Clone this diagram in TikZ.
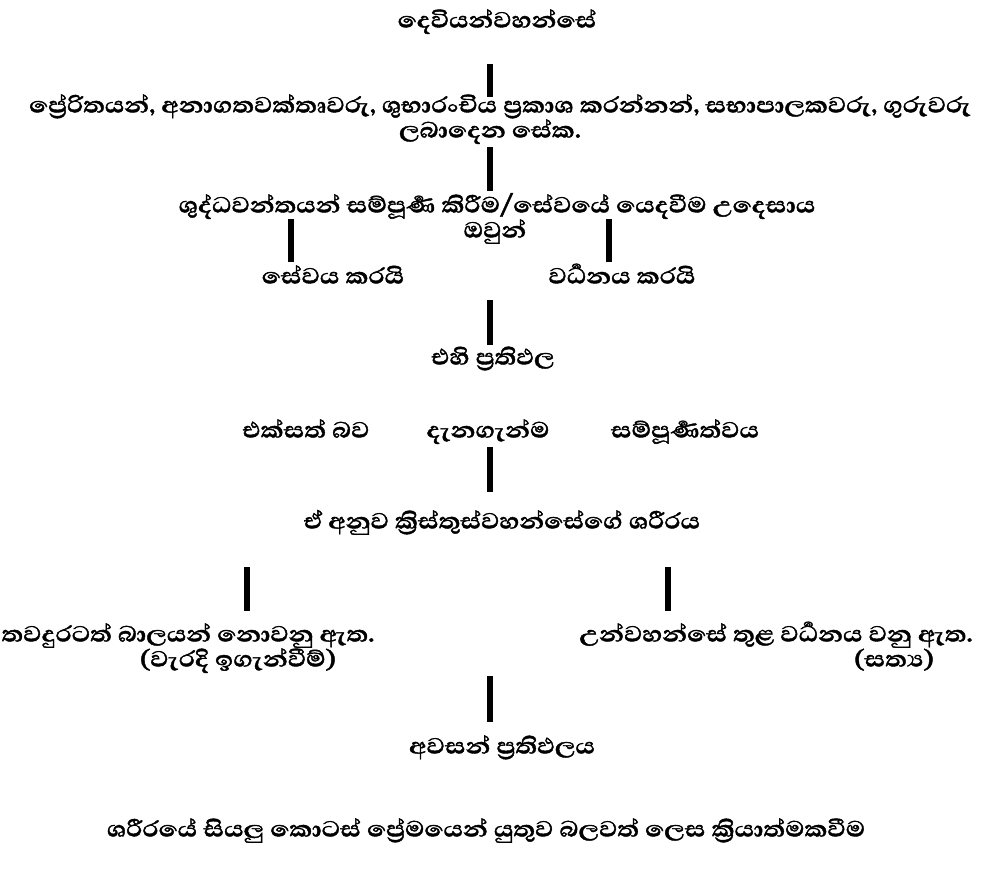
\documentclass[tikz,border=0pt]{standalone}
\usepackage{fontspec}
\newfontfamily\sinfont[Script=Sinhala,FakeStretch=1.15,BoldFeatures={FakeBold=1.5}]{Abhaya Libre}
\begin{document}
\begin{tikzpicture}[x=0.5pt,y=-0.5pt,
  txt/.style={font=\sinfont\bfseries\fontsize{14}{16}\selectfont, text height=8pt, text depth=2.5pt, inner sep=0pt},
  bar/.style={line width=2.6pt, black}]
\fill[white] (0,0) rectangle (1000,874);
\useasboundingbox (0,0) rectangle (1000,874);
% texts
\node[txt] (god)   at (497,22)  {දෙවියන්වහන්සේ};
\node[txt] (gifts) at (500,107) {ප්^^^^200dරේරිතයන්, අනාගතවක්තෘවරු, ශුභාරංචිය ප්^^^^200dරකාශ කරන්නන්, සභාපාලකවරු, ගුරුවරු};
\node[txt] (gifts2) at (490,132) {ලබාදෙන සේක.};
\node[txt] (purp)  at (497,207) {ශුද්ධවන්තයන් සම්පූර්^^^^200dණ කිරීම/සේවයේ යෙදවීම උදෙසාය};
\node[txt] (they)  at (495,232) {ඔවුන්};
\node[txt] (serve) at (333,278) {සේවය කරයි};
\node[txt] (grow)  at (622,278) {වර්^^^^200dධනය කරයි};
\node[txt] (res)   at (493,359) {එහි ප්^^^^200dරතිඵල};
\node[txt] (unity) at (306,432) {එක්සත් බව};
\node[txt] (know)  at (488,432) {දැනගැන්ම};
\node[txt] (mat)   at (685,432) {සම්පූර්^^^^200dණත්වය};
\node[txt] (body)  at (502,523) {ඒ අනුව ක්^^^^200dරිස්තුස්වහන්සේගේ ශරීරය};
\node[txt] (child) at (188,636) {තවදුරටත් බාලයන් නොවනු ඇත.};
\node[txt] (wrong) at (238,661) {(වැරදි ඉගැන්වීම්)};
\node[txt] (inhim) at (776,636) {උන්වහන්සේ තුළ වර්^^^^200dධනය වනු ඇත.};
\node[txt] (truth) at (894,661) {(සත්^^^^200dය)};
\node[txt] (final) at (502,748) {අවසන් ප්^^^^200dරතිඵලය};
\node[txt] (love)  at (486,831) {ශරීරයේ සියලු කොටස් ප්^^^^200dරේමයෙන් යුතුව බලවත් ලෙස ක්^^^^200dරියාත්මකවීම};
% connector ends
\coordinate (b1t) at (490,64);  \coordinate (b1b) at (490,97);
\coordinate (b2t) at (490,147); \coordinate (b2b) at (490,191);
\coordinate (b3t) at (291,219); \coordinate (b3b) at (291,262);
\coordinate (b4t) at (609,219); \coordinate (b4b) at (609,262);
\coordinate (b5t) at (490,300); \coordinate (b5b) at (490,345);
\coordinate (b6t) at (490,447); \coordinate (b6b) at (490,492);
\coordinate (b7t) at (247,567); \coordinate (b7b) at (247,611);
\coordinate (b8t) at (668,567); \coordinate (b8b) at (668,611);
\coordinate (b9t) at (490,676); \coordinate (b9b) at (490,722);
\foreach \a in {1,...,9} {\draw[bar] (b\a t) -- (b\a b);}
\end{tikzpicture}
\end{document}
